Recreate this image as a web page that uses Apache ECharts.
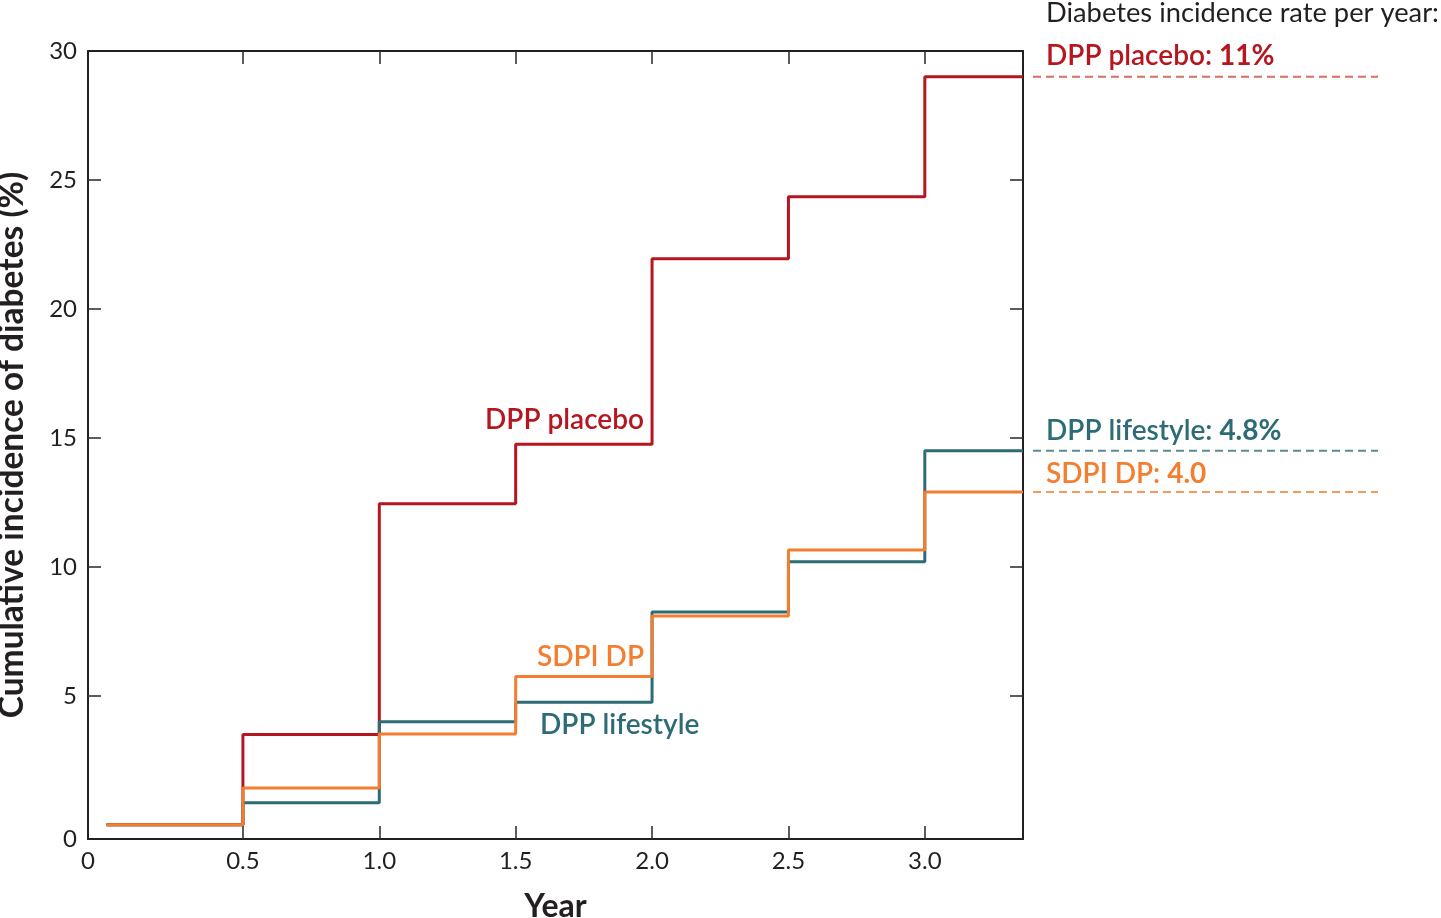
<!DOCTYPE html>
<html><head><meta charset="utf-8">
<script src="https://cdn.jsdelivr.net/npm/echarts@6/dist/echarts.min.js"></script>
<style>html,body{margin:0;padding:0;background:#fff}#c{width:1441px;height:918px}</style>
</head><body><div id="c"></div>
<script>
// ---- data ----
const years = [0, 0.5, 1.0, 1.5, 2.0, 2.5, 3.0, 3.36];
const dppPlacebo = [0, 3.5, 12.45, 14.75, 21.95, 24.35, 29.0, 29.0];
const dppLifestyle = [0, 0.86, 4.0, 4.75, 8.25, 10.2, 14.5, 14.5];
const sdpiDP = [0, 1.43, 3.52, 5.75, 8.1, 10.65, 12.9, 12.9];
const xTicks = [0.5, 1.0, 1.5, 2.0, 2.5, 3.0];
const yTicks = [5, 10, 15, 20, 25, 30];
const xMin = -0.068, xMax = 3.36, yMin = -0.55, yMax = 30;
const rateLabels = ['11%', '4.8%', '4.0'];

const RED = '#B5161F', TEAL = '#2D6B76', ORANGE = '#F47D2F';
const RED_D = '#DC6E5E', TEAL_D = '#5B8C95', ORANGE_D = '#F59A5C';
const INK = '#231F20';
const FONT = 'Lato';

const pairs = (ys) => years.map((x, i) => [x, ys[i]]);
const lastOf = (a) => a[a.length - 1];

const chart = echarts.init(document.getElementById('c'));
const frameAxis = {onZero: false, lineStyle: {color: INK, width: 2}};
const tickStyle = {inside: true, length: 13, lineStyle: {color: '#333', width: 1.6}};

chart.setOption({
  animation: false,
  grid: [
    {left: 88, top: 51, width: 935, height: 788, outerBoundsMode: 'none', containLabel: false},
    {left: 1033, top: 51, width: 345, height: 788, outerBoundsMode: 'none', containLabel: false}
  ],
  xAxis: [
    {type: 'value', gridIndex: 0, position: 'bottom', min: xMin, max: xMax,
     axisLine: {show: true, ...frameAxis}, splitLine: {show: false},
     axisTick: {show: true, ...tickStyle, customValues: xTicks},
     axisLabel: {customValues: [xMin].concat(xTicks), color: INK, fontFamily: FONT, fontSize: 24, margin: 10,
       formatter: v => (v < 0 ? '0' : v.toFixed(1))},
     name: 'Year', nameLocation: 'middle', nameGap: 52,
     nameTextStyle: {fontFamily: FONT, fontWeight: 'bold', fontSize: 32, color: INK}},
    {type: 'value', gridIndex: 0, position: 'top', min: xMin, max: xMax,
     axisLine: {show: true, ...frameAxis}, splitLine: {show: false},
     axisTick: {show: true, ...tickStyle, customValues: xTicks}, axisLabel: {show: false}},
    {type: 'value', gridIndex: 1, min: 0, max: 1, show: false}
  ],
  yAxis: [
    {type: 'value', gridIndex: 0, position: 'left', min: yMin, max: yMax,
     axisLine: {show: true, ...frameAxis}, splitLine: {show: false},
     axisTick: {show: true, ...tickStyle, customValues: yTicks.slice(0, -1)},
     axisLabel: {customValues: [yMin].concat(yTicks), color: INK, fontFamily: FONT, fontSize: 24, margin: 11,
       formatter: v => (v < 0 ? '0' : String(v))},
     name: 'Cumulative incidence of diabetes (%)', nameLocation: 'middle', nameGap: 59, nameRotate: 90,
     nameTextStyle: {fontFamily: FONT, fontWeight: 'bold', fontSize: 33.5, color: INK}},
    {type: 'value', gridIndex: 0, position: 'right', min: yMin, max: yMax,
     axisLine: {show: true, ...frameAxis}, splitLine: {show: false},
     axisTick: {show: true, ...tickStyle, customValues: yTicks.slice(0, -1)}, axisLabel: {show: false}},
    {type: 'value', gridIndex: 1, min: yMin, max: yMax, show: false}
  ],
  series: [
    {type: 'line', name: 'DPP placebo', xAxisIndex: 0, yAxisIndex: 0, step: 'end', data: pairs(dppPlacebo),
     symbol: 'none', lineStyle: {color: RED, width: 3}, z: 3},
    {type: 'line', name: 'DPP lifestyle', xAxisIndex: 0, yAxisIndex: 0, step: 'end', data: pairs(dppLifestyle),
     symbol: 'none', lineStyle: {color: TEAL, width: 3}, z: 4},
    {type: 'line', name: 'SDPI DP', xAxisIndex: 0, yAxisIndex: 0, step: 'end', data: pairs(sdpiDP),
     symbol: 'none', lineStyle: {color: ORANGE, width: 3}, z: 5},
    {type: 'line', xAxisIndex: 2, yAxisIndex: 2, data: [[0, lastOf(dppPlacebo)], [1, lastOf(dppPlacebo)]],
     symbol: 'none', lineStyle: {color: RED_D, width: 2, type: [8, 5]}},
    {type: 'line', xAxisIndex: 2, yAxisIndex: 2, data: [[0, lastOf(dppLifestyle)], [1, lastOf(dppLifestyle)]],
     symbol: 'none', lineStyle: {color: TEAL_D, width: 2, type: [8, 5]}},
    {type: 'line', xAxisIndex: 2, yAxisIndex: 2, data: [[0, lastOf(sdpiDP)], [1, lastOf(sdpiDP)]],
     symbol: 'none', lineStyle: {color: ORANGE_D, width: 2, type: [8, 5]}}
  ],
  graphic: [
    {type: 'text', left: 1046, top: 0, style: {text: 'Diabetes incidence rate per year:', font: '27.3px ' + FONT, fill: INK}},
    {type: 'text', left: 1046, top: 42, style: {text: '{a|DPP placebo: }{b|' + rateLabels[0] + '}',
      rich: {a: {font: '600 28px ' + FONT, fill: RED}, b: {font: 'bold 28px ' + FONT, fill: RED}}}},
    {type: 'text', left: 1046, top: 417, style: {text: '{a|DPP lifestyle: }{b|' + rateLabels[1] + '}',
      rich: {a: {font: '600 28px ' + FONT, fill: TEAL}, b: {font: 'bold 28px ' + FONT, fill: TEAL}}}},
    {type: 'text', left: 1046, top: 460, style: {text: '{a|SDPI DP: }{b|' + rateLabels[2] + '}',
      rich: {a: {font: '600 28px ' + FONT, fill: ORANGE}, b: {font: 'bold 28px ' + FONT, fill: ORANGE}}}},
    {type: 'text', right: 1441 - 644, top: 406, style: {text: 'DPP placebo', font: '600 28px ' + FONT, fill: RED}},
    {type: 'text', right: 1441 - 644, top: 643, style: {text: 'SDPI DP', font: '600 28px ' + FONT, fill: ORANGE}},
    {type: 'text', left: 540, top: 711, style: {text: 'DPP lifestyle', font: '600 28px ' + FONT, fill: TEAL}}
  ]
});
</script></body></html>
